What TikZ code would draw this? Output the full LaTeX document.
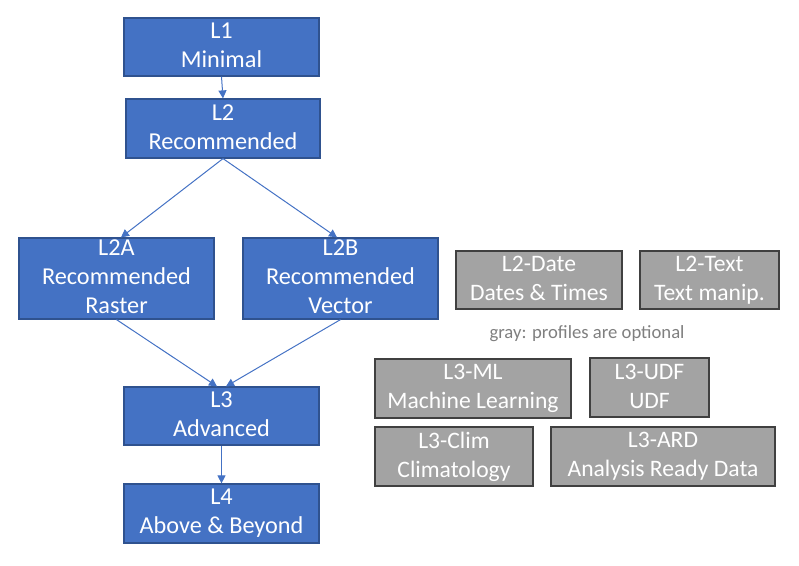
\documentclass[tikz,border=0pt]{standalone}
\usepackage{fontspec}
\setmainfont{Carlito}
\usetikzlibrary{arrows.meta}
\definecolor{bluefill}{HTML}{4472C4}
\definecolor{blueline}{HTML}{2F528F}
\definecolor{grayfill}{HTML}{A3A3A3}
\definecolor{grayline}{HTML}{404040}
\definecolor{captiongray}{HTML}{7F7F7F}
\newcommand{\boxstrut}{\vphantom{(}}
\begin{document}
\begin{tikzpicture}[x=0.75pt,y=-0.75pt,
  bluebox/.style={draw=blueline,line width=0.9pt,fill=bluefill,text=white,
    rectangle,inner sep=0pt,align=center,
    execute at begin node=\boxstrut,execute at end node=\boxstrut,
    font=\fontsize{18.2}{21.75}\selectfont},
  graybox/.style={draw=grayline,line width=0.9pt,fill=grayfill,text=white,
    rectangle,inner sep=0pt,align=center,
    execute at begin node=\boxstrut,execute at end node=\boxstrut,
    font=\fontsize{17.7}{21.75}\selectfont},
  conn/.style={draw=bluefill,line width=0.75pt,-{Triangle[width=6pt,length=6pt]}}
]
\useasboundingbox (0,0) rectangle (799,566);
\node[bluebox,minimum width=195*0.75pt,minimum height=58*0.75pt] (L1) at (221.5,47) {L1\\Minimal};
\node[bluebox,minimum width=194*0.75pt,minimum height=59*0.75pt] (L2) at (223,128.5) {L2\\Recommended};
\node[bluebox,minimum width=195*0.75pt,minimum height=81*0.75pt] (L2A) at (116.5,278.5) {L2A\\Recommended\\Raster};
\node[bluebox,minimum width=195*0.75pt,minimum height=81*0.75pt] (L2B) at (340.5,278.5) {L2B\\Recommended\\Vector};
\node[bluebox,minimum width=195*0.75pt,minimum height=58*0.75pt] (L3) at (221.5,416) {L3\\Advanced};
\node[bluebox,minimum width=195*0.75pt,minimum height=59*0.75pt] (L4) at (221.5,513.5) {L4\\Above \& Beyond};

\node[graybox,minimum width=166*0.75pt,minimum height=58*0.75pt] (L2Date) at (539,280) {L2-Date\\Dates \& Times};
\node[graybox,minimum width=139*0.75pt,minimum height=58*0.75pt] (L2Text) at (709.5,280) {L2-Text\\Text manip.};
\node[text=captiongray,font=\fontsize{14}{16}\selectfont,inner sep=0pt] (cap) at (587,334) {gray: profiles are optional};
\node[graybox,minimum width=196*0.75pt,minimum height=59*0.75pt] (L3ML) at (473,388.5) {L3-ML\\Machine Learning};
\node[graybox,minimum width=119*0.75pt,minimum height=59*0.75pt] (L3UDF) at (649.5,387.5) {L3-UDF\\UDF};
\node[graybox,minimum width=158*0.75pt,minimum height=59*0.75pt] (L3Clim) at (454,456.5) {L3-Clim\\Climatology};
\node[graybox,minimum width=224*0.75pt,minimum height=59*0.75pt] (L3ARD) at (663,456.5) {L3-ARD\\Analysis Ready Data};

\draw[conn] (L1.south) -- (L2.north);
\draw[conn] (L2.south) -- ([xshift=4.5*0.75pt]L2A.north);
\draw[conn] (L2.south) -- ([xshift=-3.5*0.75pt]L2B.north);
\draw[conn] (L2A.south) -- ([xshift=-4.5*0.75pt]L3.north);
\draw[conn] (L2B.south) -- ([xshift=4.5*0.75pt]L3.north);
\draw[conn] (L3.south) -- (L4.north);
\end{tikzpicture}
\end{document}
